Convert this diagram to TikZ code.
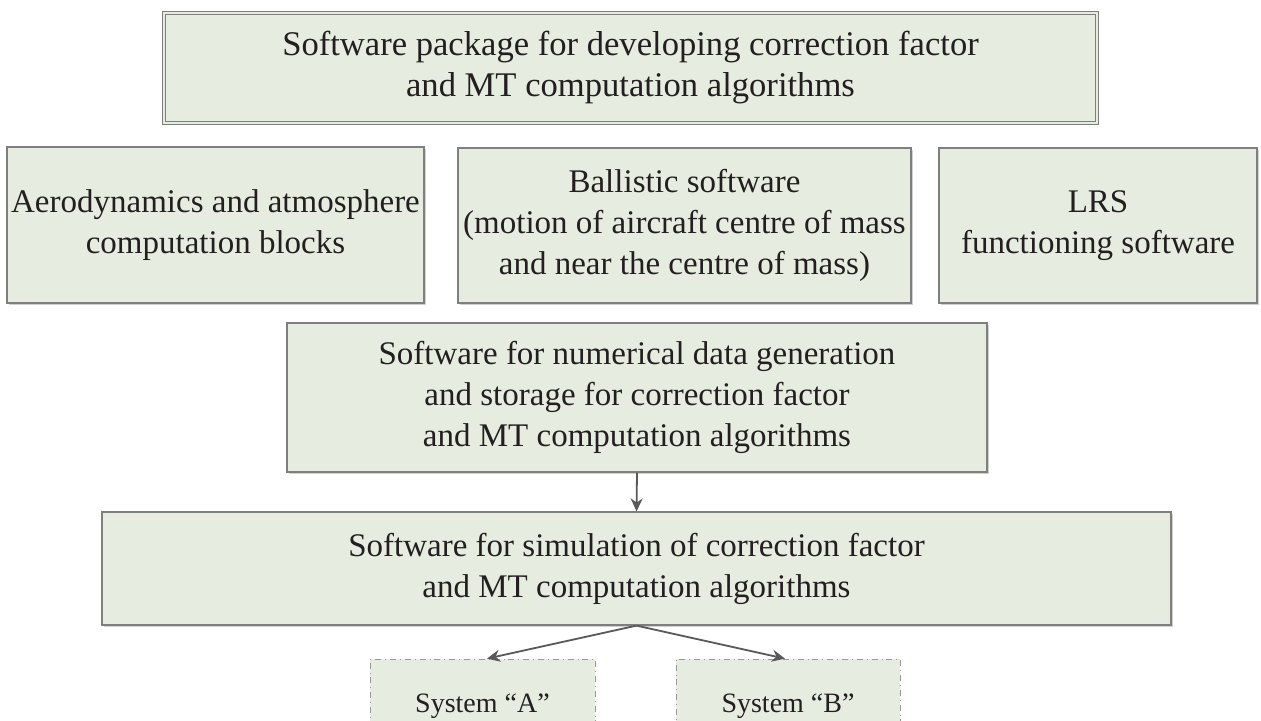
\documentclass[tikz,border=0pt]{standalone}
\usepackage{fontspec}
\setmainfont{Liberation Serif}
\usetikzlibrary{arrows.meta,shadows}
\definecolor{boxfill}{HTML}{E6ECDF}
\definecolor{boxline}{HTML}{7F7F7F}
\definecolor{txt}{HTML}{231F20}
\definecolor{arr}{HTML}{595959}
\tikzset{
  box/.style={draw=boxline, fill=boxfill, line width=0.6pt, align=center, text=txt,
    font=\fontsize{16.5}{20.5}\selectfont, inner sep=0pt,
    drop shadow={shadow xshift=0.8pt, shadow yshift=-0.8pt, fill=black!18, opacity=1}},
  dbox/.style={box, double=boxfill, double distance=1.2pt, line width=0.5pt,
    font=\fontsize{17.3}{20.5}\selectfont},
  sysbox/.style={draw=boxline!80, fill=boxfill, line width=0.4pt, dash dot, align=center, text=txt,
    font=\fontsize{14}{17}\selectfont, inner sep=0pt},
  conn/.style={draw=arr, line width=0.9pt, -{Stealth[length=6.5pt,width=6pt]}}
}
\begin{document}
\begin{tikzpicture}[x=0.5pt,y=-0.5pt]
\clip (0,0) rectangle (1261,720);
\fill[white] (0,0) rectangle (1261,720);
\node[dbox, minimum width=466.5pt, minimum height=55pt] (top) at (630.5,68)
  {Software package for developing correction factor\\and MT computation algorithms};
\node[box, minimum width=208.5pt, minimum height=78pt] (aero) at (215.5,225)
  {Aerodynamics and atmosphere\\computation blocks};
\node[box, minimum width=226.5pt, minimum height=77.5pt] (ball) at (684.5,225.5)
  {Ballistic software\\(motion of aircraft centre of mass\\and near the centre of mass)};
\node[box, minimum width=159pt, minimum height=77.5pt] (lrs) at (1098,225.5)
  {LRS\\functioning software};
\node[box, minimum width=350pt, minimum height=74.5pt] (num) at (637,397.5)
  {Software for numerical data generation\\and storage for correction factor\\and MT computation algorithms};
\node[box, minimum width=534.5pt, minimum height=56.5pt] (sim) at (636.5,568.5)
  {Software for simulation of correction factor\\and MT computation algorithms};
\node[sysbox, minimum width=112.5pt, minimum height=47pt] (sa) at (482.5,706) {System “A”};
\node[sysbox, minimum width=112pt, minimum height=47pt] (sb) at (788,706) {System “B”};
\draw[conn] (num.south) -- (sim.north);
\coordinate (split) at (sim.south);
\draw[conn] (split) -- (sa.north -| 487,0);
\draw[conn] (split) -- (sb.north -| 785,0);
\end{tikzpicture}
\end{document}
